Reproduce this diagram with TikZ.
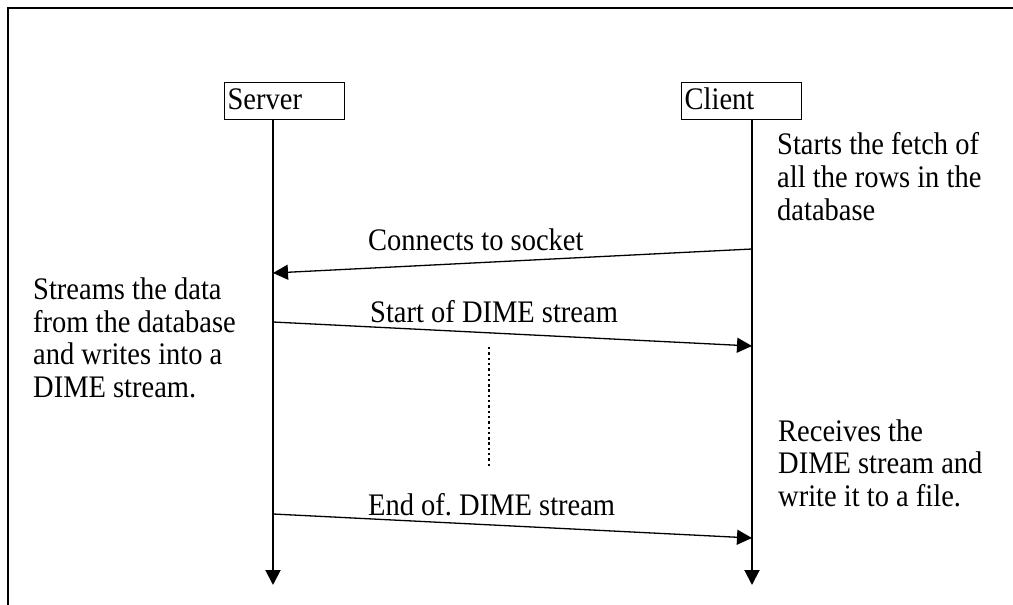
\documentclass[tikz,border=0pt]{standalone}
\usepackage{graphicx}
\usepackage{fontspec}
\setmainfont{Liberation Serif}
\usetikzlibrary{arrows.meta}
% slightly taller glyphs for every line of text
\newcommand{\tallline}[1]{\scalebox{1}[1.1]{#1}}
\begin{document}
\begin{tikzpicture}[x=1pt,y=-1pt,
  every node/.style={font=\fontsize{28.5}{32.8}\selectfont\frenchspacing},
  actorbox/.style={draw,line width=1.3pt,anchor=north west,minimum width=120pt,
    minimum height=37pt,inner sep=2pt,text width=114pt,align=left,
    text height=22pt,text depth=6pt},
  note/.style={anchor=base west,inner sep=0pt,align=left},
  msglabel/.style={anchor=base west,inner sep=0pt},
  lifeline/.style={line width=2pt,-{Triangle[length=15pt,width=15pt]}},
  msg/.style={line width=1.3pt,-{Triangle[length=15pt,width=15pt]}},
  frameline/.style={line width=2pt}]
\useasboundingbox (0,0) rectangle (1013,605);

% open frame: top and left edges only
\draw[frameline] (7.5,605) -- (7.5,8) -- (1013,8);

% participants
\node[actorbox] (srv) at (224,82) {\tallline{Server}};
\node[actorbox] (cli) at (681,82) {\tallline{Client}};

% lifeline ends and message anchor points
\coordinate (sEnd) at (273,585);
\coordinate (cEnd) at (752,585);
\coordinate (c1) at (752,249);
\coordinate (s1) at (273,273);
\coordinate (s2) at (273,322);
\coordinate (c2) at (752,346);
\coordinate (s3) at (273,514);
\coordinate (c3) at (752,538);
\coordinate (dTop) at (489,347);
\coordinate (dBot) at (489,466);

% lifelines
\draw[lifeline] (srv.south -| sEnd) -- (sEnd);
\draw[lifeline] (cli.south -| cEnd) -- (cEnd);

% messages
\draw[msg] (c1) -- (s1);
\draw[msg] (s2) -- (c2);
\draw[msg] (s3) -- (c3);
\draw[line width=2.2pt,dash pattern=on 2.4pt off 2.9pt] (dTop) -- (dBot);

% message labels
\node[msglabel] (l1) at (368,250) {\tallline{Connects to socket}};
\node[msglabel] (l2) at (370,322) {\tallline{Start of DIME stream}};
\node[msglabel] (l3) at (368,515) {\tallline{End of. DIME stream}};

% side notes (anchored on the baseline of their last line)
\node[note] (n1) at (777,220) {\tallline{Starts the fetch of}\\\tallline{all the rows in the}\\\tallline{database}};
\node[note] (n2) at (33,397.7) {\tallline{Streams the data}\\\tallline{from the database}\\\tallline{and writes into a}\\\tallline{DIME stream.}};
\node[note] (n3) at (778,506.7) {\tallline{Receives the}\\\tallline{DIME stream and}\\\tallline{write it to a file.}};
\end{tikzpicture}
\end{document}
